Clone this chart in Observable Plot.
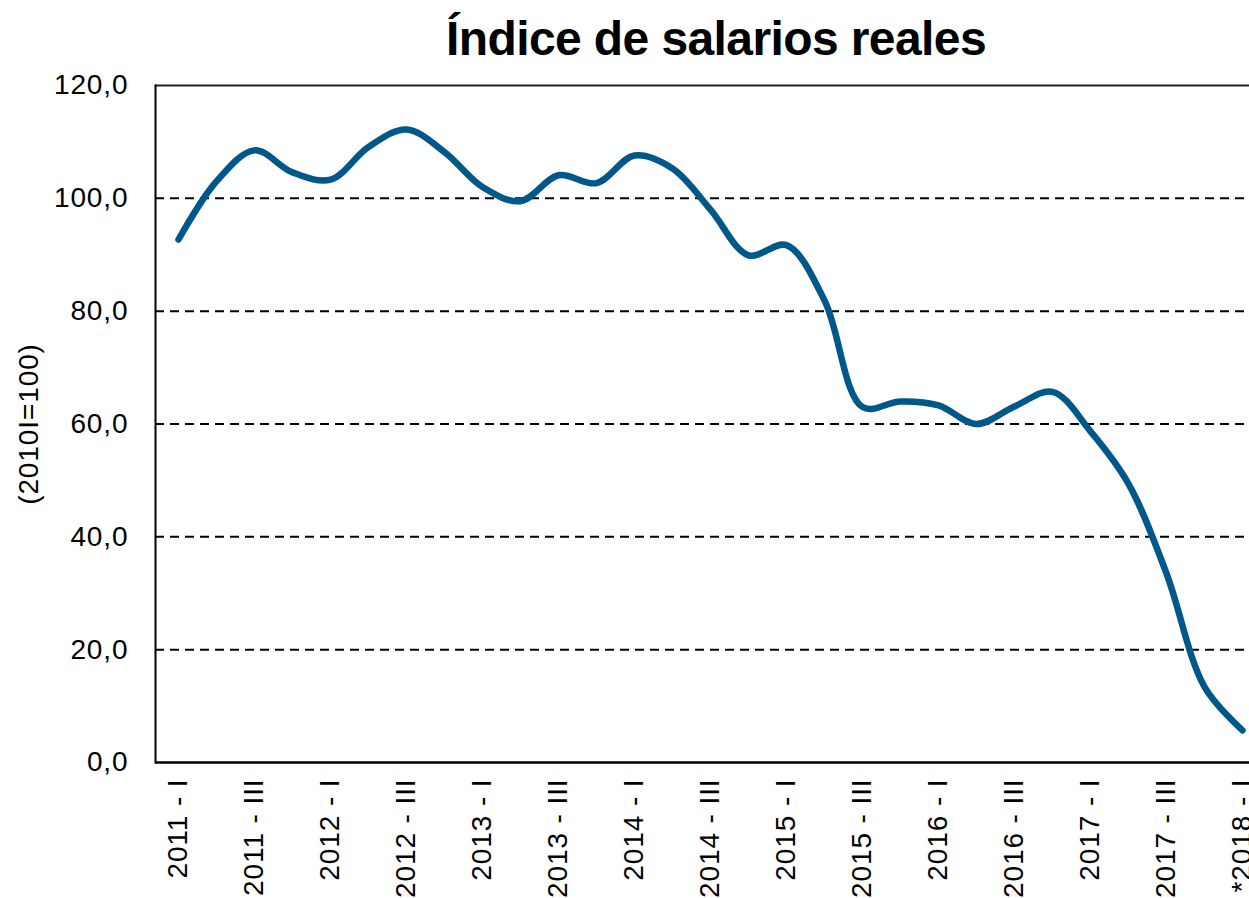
<!DOCTYPE html>
<html>
<head>
<meta charset="utf-8">
<script src="https://cdn.jsdelivr.net/npm/d3@7"></script>
<script src="https://cdn.jsdelivr.net/npm/@observablehq/plot@0.6"></script>
<style>
  html, body { margin: 0; padding: 0; background: #fff; }
  #wrap { width: 1249px; height: 898px; overflow: hidden; position: relative; }
  #title { position: absolute; top: 15px; left: 716px; transform: translateX(-50%);
           font-family: "Liberation Sans", Arial, sans-serif; font-weight: bold; font-size: 48px;
           line-height: 1; white-space: nowrap; letter-spacing: -0.6px; z-index: 2; }
  #chart { position: absolute; top: 0; left: 0; }
  #chart svg text { letter-spacing: 0.9px; }
</style>
</head>
<body>
<div id="wrap">
  <div id="chart"></div>
  <div id="title">Índice de salarios reales</div>
</div>
<script>
const quarters = [
  "2011 - I","2011 - II","2011 - III","2011 - IV",
  "2012 - I","2012 - II","2012 - III","2012 - IV",
  "2013 - I","2013 - II","2013 - III","2013 - IV",
  "2014 - I","2014 - II","2014 - III","2014 - IV",
  "2015 - I","2015 - II","2015 - III","2015 - IV",
  "2016 - I","2016 - II","2016 - III","2016 - IV",
  "2017 - I","2017 - II","2017 - III","2017 - IV",
  "*2018 - I"
];
const values = [
  92.7, 103.0, 108.5, 104.6,
  103.3, 109.1, 112.2, 108.2,
  102.0, 99.5, 104.1, 102.7,
  107.6, 105.3, 98.0, 89.9,
  91.7, 81.9, 63.0, 64.0,
  63.3, 60.0, 63.1, 65.7,
  58.7, 49.4, 33.5, 13.4,
  5.7
];
const tickLabels = quarters.filter((q, i) => i % 2 === 0);
const yTicks = [0, 20, 40, 60, 80, 100, 120];
const gridValues = [20, 40, 60, 80, 100];
const yLabel = "(2010I=100)";

const data = quarters.map((q, i) => ({q, v: values[i]}));

const chart = Plot.plot({
  width: 1249,
  height: 898,
  marginTop: 85,
  marginBottom: 136,
  marginLeft: 155,
  marginRight: 0,
  style: {fontFamily: "'Liberation Sans', Arial, sans-serif", fontSize: "28px", color: "#000", background: "#fff", overflow: "visible"},
  x: {type: "point", domain: quarters, range: [174, 1245], padding: 0},
  y: {domain: [0, 120], range: [762, 85]},
  marks: [
    Plot.ruleY(gridValues, {stroke: "#000", strokeWidth: 2, strokeDasharray: "9,6"}),
    Plot.ruleY([120], {stroke: "#222", strokeWidth: 2}),
    Plot.ruleY([0], {stroke: "#000", strokeWidth: 2.5}),
    Plot.frame({anchor: "left", stroke: "#000", strokeWidth: 2}),
    Plot.axisY({ticks: yTicks, tickSize: 0, tickPadding: 27, tickFormat: d => d.toFixed(1).replace(".", ","), label: null}),
    Plot.axisX({ticks: tickLabels, tickSize: 0, tickPadding: 16, tickRotate: -90, label: null}),
    Plot.text([yLabel], {frameAnchor: "left", dx: -126, rotate: -90, textAnchor: "middle", text: d => d, fontSize: 28}),
    Plot.line(data, {x: "q", y: "v", curve: "catmull-rom", stroke: "#00578A", strokeWidth: 6.5, strokeLinecap: "round", strokeLinejoin: "round"})
  ]
});
document.getElementById("chart").appendChild(chart);
</script>
</body>
</html>
